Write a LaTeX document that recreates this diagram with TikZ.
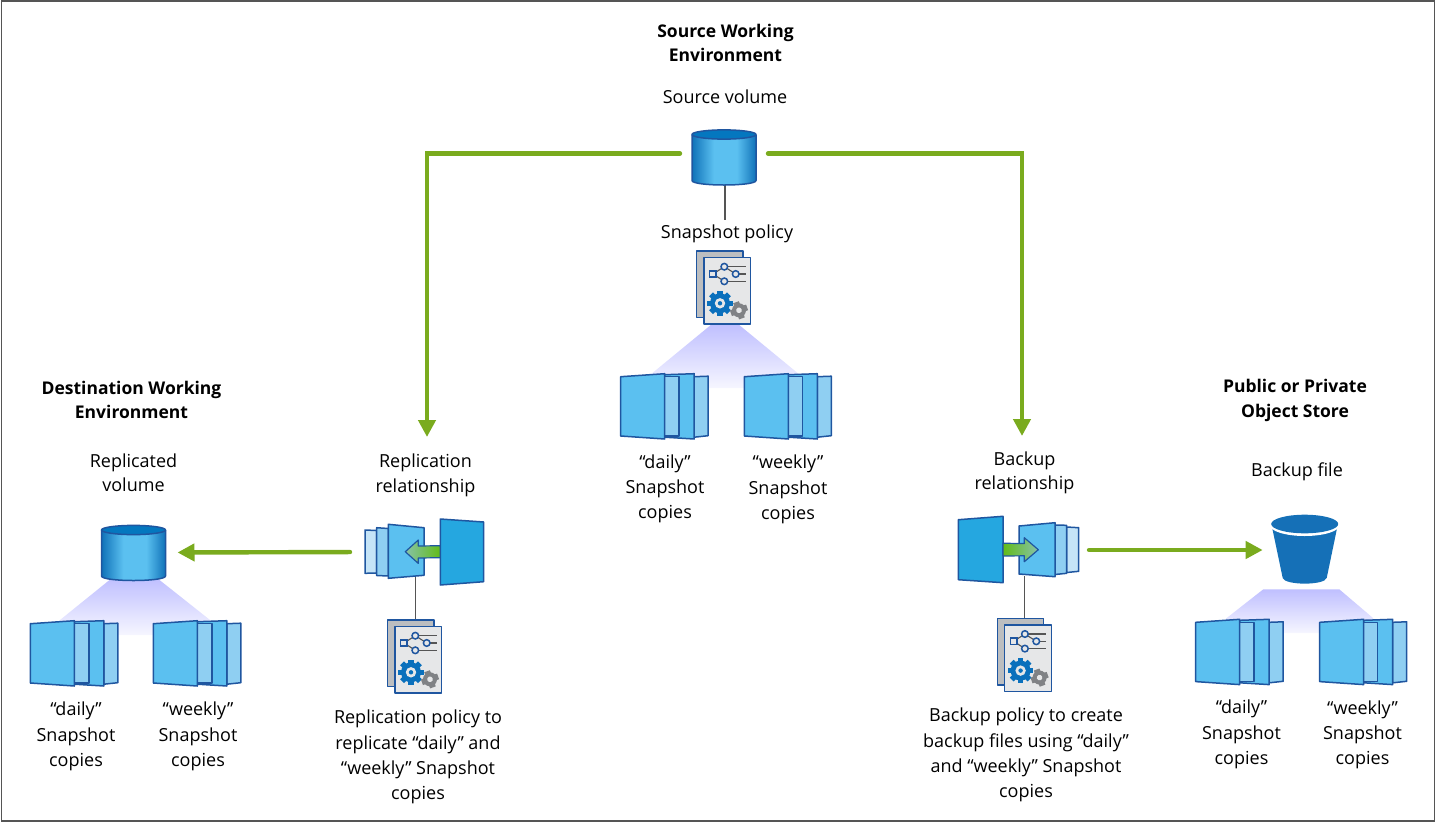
\documentclass[tikz,border=0pt]{standalone}
\usepackage{fontspec}
\setmainfont{Open Sans}
\usetikzlibrary{arrows.meta}
\definecolor{grn}{HTML}{7AAB1E}
\definecolor{edgeb}{HTML}{1F56A0}
\definecolor{pagea}{HTML}{5BC0F0}
\definecolor{pageb}{HTML}{8FCFF2}
\definecolor{pagec}{HTML}{C5E4F7}
\definecolor{panel}{HTML}{25A7E0}
\definecolor{cyld}{HTML}{0F72B8}
\definecolor{cyltop}{HTML}{0477BF}
\definecolor{bucketc}{HTML}{1570B7}
\definecolor{gearb}{HTML}{0A70BC}
\definecolor{gearg}{HTML}{808285}
\definecolor{pgfront}{HTML}{E6E7E8}
\definecolor{pgback}{HTML}{BCBEC0}
\definecolor{conn}{HTML}{555555}
\definecolor{fanA}{HTML}{BFBFFF}
\definecolor{fanB}{HTML}{F6F6FF}
\pgfdeclarehorizontalshading{cylshade}{100bp}{
  color(0bp)=(cyld); color(25bp)=(cyld); color(42bp)=(pagea);
  color(60bp)=(pagea); color(75bp)=(cyld); color(100bp)=(cyld)}
\tikzset{
  greenline/.style={draw=grn,line width=4.4pt,line cap=round,line join=miter,-{Triangle[length=17pt,width=17pt]}},
  thinconn/.style={draw=conn,line width=1.3pt},
  lbl/.style={inner sep=0pt,outer sep=0pt,align=center,font=\fontsize{18}{25.3}\selectfont},
  lbltwo/.style={lbl,font=\fontsize{18}{24.3}\selectfont},
  hlbl/.style={lbl,font=\fontsize{17.5}{24.4}\selectfont\bfseries},
  hold/.style={inner sep=0pt,outer sep=0pt,minimum width=#1},
  pg/.style={draw=edgeb,line width=1.5pt,line join=round},
  fan/.style={top color=fanA,bottom color=fanB,draw=none},
  pics/stackpic/.style={code={
    \filldraw[pg,fill=pageb] (#1+59,3) -- (#1+73,2.5) -- (#1+73,62) -- (#1+59,63.5) -- cycle;
    \filldraw[pg,fill=pagea] (44,1) -- (#1+59,0) -- (#1+59,65.3) -- (44,63.5) -- cycle;
    \filldraw[pg,fill=pageb] (44,3) -- (#1+44,3) -- (#1+44,62.3) -- (44,62.3) -- cycle;
    \filldraw[pg,fill=pagea] (0,3) -- (44,0) -- (44,65.3) -- (0,62.3) -- cycle;
  }},
  pics/policypic/.style={code={
    \filldraw[pg,fill=pgback] (0,0) rectangle (46.3,66.7);
    \filldraw[pg,fill=pgfront] (7.3,6.7) rectangle (54,73);
    \draw[conn,line width=1.1pt] (27.6,15.7) -- (49,15.7) (39,23) -- (49,23) (27.6,30.3) -- (49,30.3);
    \draw[conn,line width=1.1pt] (16.3,23) -- (27.6,15.7) -- (39,23) (16.3,23) -- (27.6,30.3);
    \filldraw[draw=edgeb,fill=pgfront,line width=1.5pt] (13,19.8) rectangle (19.5,26.2);
    \foreach \p in {(27.6,15.7),(39,23),(27.6,30.3)}
      \filldraw[draw=edgeb,fill=pgfront,line width=1.5pt] \p circle (3.3);
    \begin{scope}[shift={(23.3,52.3)}]
      \foreach \a in {0,45,90,135}
        \fill[gearb,rotate=\a] (-2.7,-12.6) rectangle (2.7,12.6);
      \fill[gearb] (0,0) circle (10);
      \fill[pgfront] (0,0) circle (5.2);
      \fill[gearb] (0,0) circle (2.2);
    \end{scope}
    \begin{scope}[shift={(42.3,59.3)},rotate=20]
      \foreach \a in {0,90}
        \fill[gearg,rotate=\a] (-3,-8.6) rectangle (3,8.6);
      \fill[gearg] (0,0) circle (7);
      \fill[pgfront] (0,0) circle (2.8);
    \end{scope}
  }},
  pics/cylpic/.style={code={
    \path[shading=cylshade]
      (-32,0) -- (-32,46) .. controls (-32,52) and (32,52) .. (32,46) -- (32,0) -- cycle;
    \draw[pg] (-32,0) -- (-32,46) .. controls (-32,52) and (32,52) .. (32,46) -- (32,0);
    \filldraw[pg,fill=cyltop] (0,0) ellipse [x radius=32,y radius=4.6];
  }},
}
\begin{document}
\begin{tikzpicture}[x=1pt,y=-1pt]
\useasboundingbox (0,0) rectangle (1438,825);
\draw[conn,line width=1.4pt] (1.5,1) rectangle (1434.5,821);

% holder nodes that connectors attach to
\node[hold=64,minimum height=47] (srcvol) at (724,153.5) {};
\node[hold=64,minimum height=55] (repvol) at (133.5,552.5) {};
\node[hold=119,minimum height=66] (reprel) at (424.5,552) {};
\node[hold=121,minimum height=66] (bakrel) at (1018.5,550) {};
\node[hold=66,minimum height=68] (bucket) at (1304.7,550) {};
\node[hold=54,minimum height=73] (reppol) at (414.7,656.5) {};
\node[hold=54,minimum height=73] (bakpol) at (1024.3,654.8) {};
\coordinate (repin) at (427,437);
\coordinate (bakin) at (1022,436);
\coordinate (srctap) at (725,180);
\coordinate (reptap) at (415.5,575);
\coordinate (baktap) at (1024.7,576);

% labels
\node[hlbl] (srctitle) at (725.5,43) {Source Working\\Environment};
\node[lbl] (srcvollbl) at (725,97) {Source volume};
\node[lbl] (snaplbl) at (727,234) {Snapshot policy};
\node[lbl] (sd) at (665,489) {“daily”\\Snapshot\\copies};
\node[lbl] (sw) at (788,489.5) {“weekly”\\Snapshot\\copies};
\node[hlbl] (desttitle) at (131.5,400) {Destination Working\\Environment};
\node[lbltwo] (repvollbl) at (133.5,472.5) {Replicated\\volume};
\node[lbl] (rd) at (76,736.5) {“daily”\\Snapshot\\copies};
\node[lbl] (rw) at (198,736.5) {“weekly”\\Snapshot\\copies};
\node[lbl] (reprellbl) at (425.5,475.5) {Replication\\relationship};
\node[lbl] (reppollbl) at (418,757) {Replication policy to\\replicate “daily” and\\“weekly” Snapshot\\copies};
\node[lbltwo] (bakrellbl) at (1024.5,473) {Backup\\relationship};
\node[lbl] (bakpollbl) at (1026,755) {Backup policy to create\\backup files using “daily”\\and “weekly” Snapshot\\copies};
\node[hlbl] (objtitle) at (1295,400.5) {Public or Private\\Object Store};
\node[lbl] (bakfilelbl) at (1297,471.5) {Backup file};
\node[lbl] (od) at (1241.5,734.5) {“daily”\\Snapshot\\copies};
\node[lbl] (ow) at (1362.5,735) {“weekly”\\Snapshot\\copies};

% fans of light
\path[fan] (712,324) -- (738,324) -- (800,375) -- (800,388) -- (650,388) -- (650,375) -- cycle;
\path[fan] (112,578) -- (157,578) -- (210,620) -- (210,635) -- (60,635) -- (60,620) -- cycle;
\path[fan] (1263.3,589.3) -- (1339.3,589.3) -- (1373,618) -- (1373,633) -- (1226.7,633) -- (1226.7,618) -- cycle;

% connectors
\draw[greenline,shorten <=12pt] (srcvol.west) -| (repin);
\draw[greenline,shorten <=12pt] (srcvol.east) -| (bakin);
\draw[greenline,shorten <=15pt,shorten >=12pt] (reprel.west) -- (repvol.east);
\draw[greenline,shorten <=10pt,shorten >=9pt] (bakrel.east) -- (bucket.west);
\draw[thinconn,shorten >=5pt] (srctap) -- (srctap |- snaplbl.north);
\draw[thinconn] (reptap) -- (reptap |- reppol.north);
\draw[thinconn] (baktap) -- (baktap |- bakpol.north);

% source column
\pic at (724,134.5) {cylpic};
\pic at (696.7,251) {policypic};
\pic at (620.7,373.7) {stackpic=14.5};
\pic at (744.3,373.7) {stackpic=14};

% destination column
\pic at (133.5,530) {cylpic};
\pic at (30.3,620.7) {stackpic=14.5};
\pic at (153.3,620.7) {stackpic=14.5};

% replication relationship
\pic at (387.7,620) {policypic};
\filldraw[pg,fill=panel] (440.3,519) -- (483.7,522) -- (483.7,581.7) -- (440.3,585) -- cycle;
\filldraw[pg,fill=pagec] (365,530) -- (376.7,530.5) -- (376.7,573) -- (365,573.3) -- cycle;
\filldraw[pg,fill=pageb] (376.7,527.7) -- (388.3,528.5) -- (388.3,576) -- (376.7,575.5) -- cycle;
\filldraw[pg,fill=pagea] (388.3,524.3) -- (424,527.7) -- (424,575.3) -- (388.3,578.3) -- cycle;
\draw[draw=edgeb,line width=1.2pt,line join=round,left color=grn!35!pageb,right color=grn!80!green]
  (405.3,551.7) -- (418.3,540) -- (418.3,546) -- (440.3,545.7) -- (440.3,557.7) -- (418.3,558) -- (418.3,563.4) -- cycle;

% backup relationship
\pic at (997.3,618.3) {policypic};
\filldraw[pg,fill=panel] (958.3,519.7) -- (1003,516.3) -- (1003,582.7) -- (958.3,579.7) -- cycle;
\filldraw[pg,fill=pagec] (1066.7,527) -- (1078.7,527.7) -- (1078.7,571.3) -- (1066.7,572.5) -- cycle;
\filldraw[pg,fill=pageb] (1055,525) -- (1066.7,525.3) -- (1066.7,573.3) -- (1055,574.5) -- cycle;
\filldraw[pg,fill=pagea] (1019,526) -- (1055,522.7) -- (1055,576.7) -- (1019,574) -- cycle;
\draw[draw=edgeb,line width=1.2pt,line join=round,right color=grn!35!pageb,left color=grn!80!green]
  (1038.3,549.7) -- (1024.3,537.7) -- (1024.3,543.6) -- (1003,543.2) -- (1003,556) -- (1024.3,555.8) -- (1024.3,561.7) -- cycle;

% object store
\fill[bucketc] (1272,527) -- (1282.7,578) .. controls (1285,585.5) and (1324.5,585.5) .. (1326.7,578) -- (1337.3,527) -- cycle;
\fill[white] (1304.7,525) ellipse [x radius=35,y radius=11];
\fill[bucketc] (1304.7,524) ellipse [x radius=33.5,y radius=9.3];
\pic at (1195.7,619.3) {stackpic=14.5};
\pic at (1319.7,619.3) {stackpic=14};
\end{tikzpicture}
\end{document}
